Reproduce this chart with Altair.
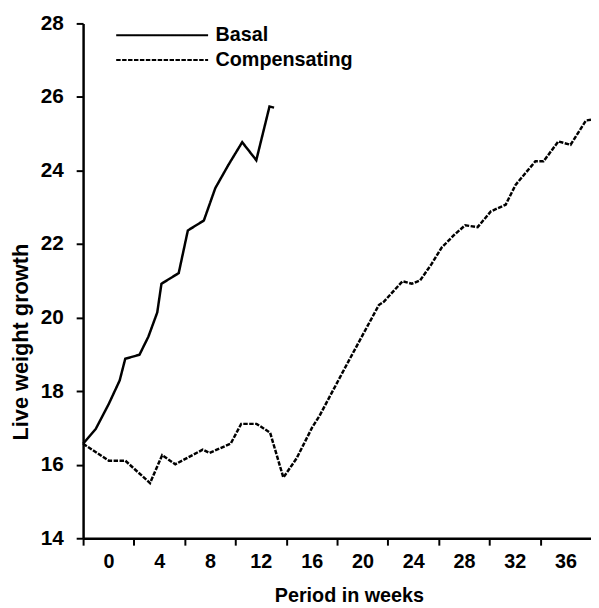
import altair as alt
import pandas as pd

# Basal series (weeks, live weight)
basal_weeks = [-2.00, -0.99, 0.02, 0.88, 1.32, 2.44, 3.14, 3.84, 4.17, 5.53,
               6.25, 7.51, 8.41, 9.44, 10.53, 11.64, 12.68, 13.04]
basal_values = [16.57, 16.98, 17.65, 18.29, 18.88, 18.99, 19.48, 20.14, 20.92, 21.21,
                22.37, 22.64, 23.52, 24.15, 24.77, 24.28, 25.74, 25.71]

# Compensating series
comp_weeks = [-2.00, 0.02, 1.32, 3.27, 4.23, 5.26, 7.42, 7.94, 9.62, 10.45,
              11.66, 12.73, 13.77, 14.81, 16.05, 16.62, 18.93, 21.29, 21.68, 23.16,
              23.89, 24.54, 25.45, 26.23, 27.26, 28.09, 29.07, 30.12, 31.28, 32.06,
              33.62, 34.26, 35.43, 36.39, 37.60, 38.00]
comp_values = [16.57, 16.11, 16.11, 15.50, 16.26, 16.01, 16.41, 16.32, 16.57, 17.11,
               17.11, 16.87, 15.65, 16.17, 17.02, 17.33, 18.83, 20.34, 20.43, 20.99,
               20.92, 21.01, 21.46, 21.90, 22.26, 22.51, 22.46, 22.89, 23.07, 23.61,
               24.25, 24.25, 24.79, 24.70, 25.36, 25.38]

series_names = ["Basal", "Compensating"]
tick_positions = [-2, 2, 6, 10, 14, 18, 22, 26, 30, 34]
y_ticks = [14, 16, 18, 20, 22, 24, 26, 28]

rows = []
for i, (w, v) in enumerate(zip(basal_weeks, basal_values)):
    rows.append({"week": w, "value": v, "series": series_names[0], "order": i})
for i, (w, v) in enumerate(zip(comp_weeks, comp_values)):
    rows.append({"week": w, "value": v, "series": series_names[1], "order": i})
df = pd.DataFrame(rows)

FONT = "Liberation Sans"

chart = alt.Chart(df).mark_line(strokeWidth=2.5, color="black").encode(
    x=alt.X("week:Q",
            scale=alt.Scale(domain=[-2, 38], nice=False, zero=False),
            axis=alt.Axis(values=tick_positions, labelExpr="datum.value + 2",
                          labelOffset=25.7, title="Period in weeks",
                          grid=False, tickSize=7, tickWidth=2, tickColor="black",
                          domainColor="black", domainWidth=2.5,
                          labelFont=FONT, labelFontSize=20, labelFontWeight="bold",
                          labelColor="black", labelPadding=7, labelOverlap=False,
                          labelBound=False, labelFlush=False,
                          titleFont=FONT, titleFontSize=20, titleFontWeight="bold",
                          titleColor="black", titlePadding=14, titleX=269)),
    y=alt.Y("value:Q",
            scale=alt.Scale(domain=[14, 28], nice=False, zero=False),
            axis=alt.Axis(values=y_ticks, title="Live weight growth", grid=False,
                          tickSize=7, tickWidth=2, tickColor="black",
                          domainColor="black", domainWidth=2.5,
                          labelFont=FONT, labelFontSize=21, labelFontWeight="bold",
                          labelColor="black", labelPadding=13,
                          titleFont=FONT, titleFontSize=22, titleFontWeight="bold",
                          titleColor="black", titleX=-56, titleY=322,
                          titleAlign="center", titleBaseline="alphabetic")),
    strokeDash=alt.StrokeDash("series:N",
                              scale=alt.Scale(domain=series_names,
                                              range=[[1, 0], [4.5, 1.5]]),
                              legend=alt.Legend(title=None, orient="none",
                                                legendX=70, legendY=2,
                                                symbolType="M-10,0H10", symbolSize=86.5,
                                                symbolStrokeWidth=2,
                                                symbolStrokeColor="black",
                                                labelFont=FONT, labelFontSize=20,
                                                labelFontWeight="bold",
                                                labelColor="black", labelOffset=44,
                                                rowPadding=5, padding=0)),
    order="order:Q",
).properties(
    width=514, height=521,
    autosize=alt.AutoSizeParams(type="none"),
    padding={"left": 76, "top": 12, "right": 0, "bottom": 67},
).configure_view(stroke=None)

chart.save("out.html", embed_options={"renderer": "svg", "actions": False})
